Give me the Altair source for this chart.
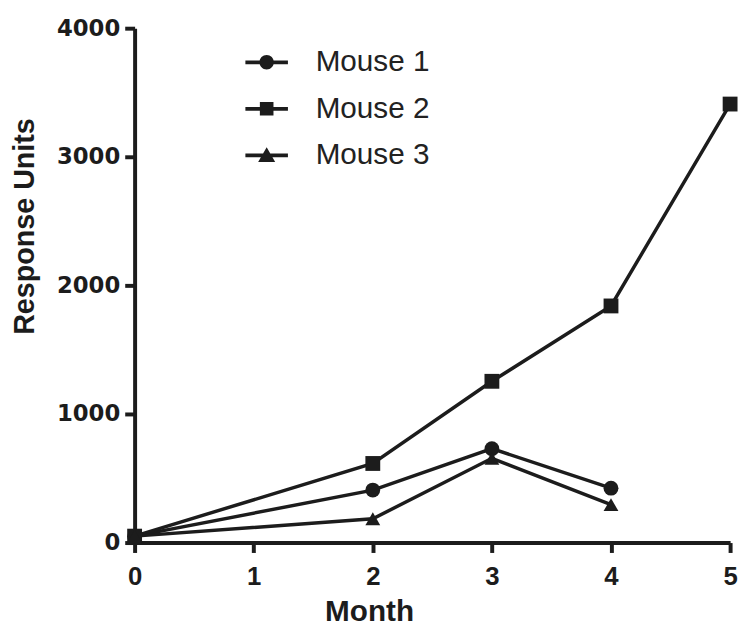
import altair as alt
import pandas as pd

months_1 = [0, 2, 3, 4]
mouse_1 = [50, 408, 730, 423]
months_2 = [0, 2, 3, 4, 5]
mouse_2 = [50, 615, 1254, 1840, 3410]
months_3 = [0, 2, 3, 4]
mouse_3 = [50, 185, 655, 295]
series = ["Mouse 1", "Mouse 2", "Mouse 3"]
x_ticks = [0, 1, 2, 3, 4, 5]
y_ticks = [0, 1000, 2000, 3000, 4000]

rows = []
for name, ms, vs in zip(series, [months_1, months_2, months_3], [mouse_1, mouse_2, mouse_3]):
    for m, v in zip(ms, vs):
        rows.append({"Month": m, "Response": v, "Mouse": name})
df = pd.DataFrame(rows)

INK = "#1c1c1c"

path_circle = ("M-1,-0.09 L1,-0.09 L1,0.09 L-1,0.09 Z "
               "M-0.34,0 A0.34,0.34 0 1,1 0.34,0 A0.34,0.34 0 1,1 -0.34,0 Z")
path_square = ("M-1,-0.09 L1,-0.09 L1,0.09 L-1,0.09 Z "
               "M-0.32,-0.32 L0.32,-0.32 L0.32,0.32 L-0.32,0.32 Z")
path_tri = ("M-1,-0.09 L1,-0.09 L1,0.09 L-1,0.09 Z "
            "M0,-0.38 L0.4,0.32 L-0.4,0.32 Z")

x_enc = alt.X("Month:Q",
              scale=alt.Scale(domain=[0, 5], nice=False, zero=False),
              axis=alt.Axis(values=x_ticks, title="Month", format="d",
                            grid=False, domainColor=INK, domainWidth=4,
                            tickColor=INK, tickWidth=4, tickSize=10,
                            labelFont="Liberation Sans", labelFontSize=26,
                            labelFontWeight="bold", labelColor=INK,
                            labelPadding=11, labelFlush=False,
                            titleFont="Liberation Sans", titleFontSize=30,
                            titleFontWeight="bold", titleColor=INK,
                            titleX=237, titleY=79, titleBaseline="alphabetic",
                            titleAnchor="start", titleAlign="center"))
y_enc = alt.Y("Response:Q",
              scale=alt.Scale(domain=[0, 4000], nice=False),
              axis=alt.Axis(values=y_ticks, title="Response Units", format="d",
                            grid=False, domainColor=INK, domainWidth=4,
                            tickColor=INK, tickWidth=4, tickSize=10,
                            labelFont="DejaVu Sans", labelFontSize=23,
                            labelFontWeight="bold", labelColor=INK,
                            labelPadding=5, labelFlush=False,
                            titleFont="Liberation Sans", titleFontSize=29,
                            titleFontWeight="bold", titleColor=INK,
                            titleX=-102, titleY=200, titleBaseline="alphabetic",
                            titleAngle=270, titleAlign="center"))

lines = alt.Chart(df).mark_line(color=INK, strokeWidth=3.5).encode(
    x=x_enc, y=y_enc, detail="Mouse:N")

points = alt.Chart(df).mark_point(filled=True, color=INK, opacity=1, size=225).encode(
    x=x_enc, y=y_enc,
    shape=alt.Shape("Mouse:N",
                    scale=alt.Scale(domain=series, range=["circle", "square", "triangle-up"]),
                    legend=None))

legend_layer = alt.Chart(df).transform_filter("false").mark_point(
    filled=True, color=INK, opacity=1, size=190).encode(
    x=x_enc, y=y_enc,
    shape=alt.Shape("Mouse:N",
                    scale=alt.Scale(domain=series, range=[path_circle, path_square, path_tri]),
                    legend=alt.Legend(title=None, orient="none", legendX=112, legendY=13,
                                      symbolSize=1849, symbolFillColor=INK,
                                      symbolStrokeWidth=0, symbolOpacity=1,
                                      labelFont="Liberation Sans", labelFontSize=30,
                                      labelColor="#222222", labelOffset=28,
                                      rowPadding=10, padding=0)))

chart = alt.layer(lines, points, legend_layer).resolve_scale(shape="independent").properties(
    width=602, height=520,
    autosize=alt.AutoSizeParams(type="none"),
    padding={"left": 128, "top": 17, "right": 9, "bottom": 86},
).configure_view(stroke=None)

chart.save("out.html", embed_options={"renderer": "svg", "actions": False})
